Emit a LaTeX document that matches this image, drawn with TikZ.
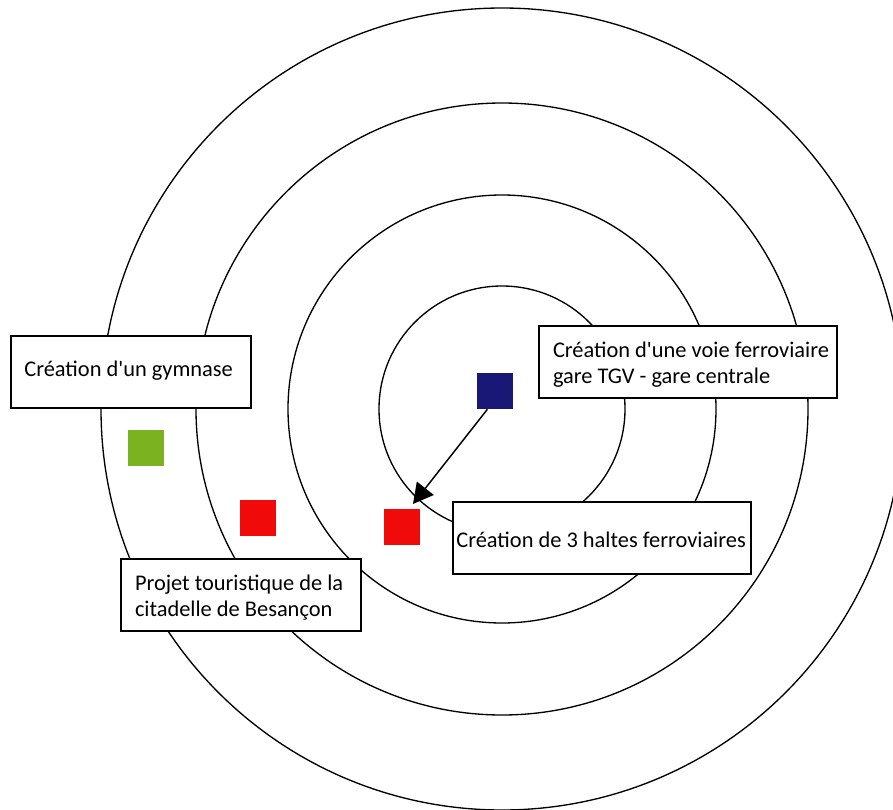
\documentclass[tikz,border=0pt]{standalone}
\usepackage{fontspec}
\newfontfamily\cfont{Carlito}
\usetikzlibrary{arrows.meta}
\definecolor{navy}{RGB}{26,24,118}
\definecolor{redsq}{RGB}{240,10,10}
\definecolor{greensq}{RGB}{122,178,32}
\tikzset{
  ring/.style={draw=black, line width=1pt},
  box/.style={draw=black, fill=white, line width=1.4pt, rectangle, inner sep=0pt},
  txt/.style={inner sep=0pt, align=left, font=\cfont\fontsize{16.8}{19}\selectfont},
  sq/.style={rectangle, inner sep=0pt, minimum width=27pt, minimum height=27pt},
  conn/.style={line width=1.1pt, -{Triangle[length=15pt,width=16pt]}}
}
\begin{document}
\begin{tikzpicture}[x=0.75pt,y=-0.75pt]
\useasboundingbox (0,0) rectangle (893,810);
\fill[white] (0,0) rectangle (893,810);
% concentric rings
\coordinate (c) at (502,409);
\draw[ring] (c) circle[radius=92.25pt];
\draw[ring] (c) circle[radius=160.5pt];
\draw[ring] (c) circle[radius=229.5pt];
\draw[ring] (c) circle[radius=300.75pt];
% squares
\node[sq, fill=navy] (blue) at (495,391) {};
\node[sq, fill=redsq] (red1) at (401.5,527) {};
\node[sq, fill=redsq] (red2) at (257.5,518) {};
\node[sq, fill=greensq] (green) at (145.5,448) {};
% boxes
\node[box, minimum width=180pt, minimum height=54pt] (g) at (131,372) {};
\node[txt, anchor=west] (gt) at ([xshift=10.5pt,yshift=1pt]g.west) {Création d'un gymnase};
\node[box, minimum width=223.5pt, minimum height=54pt] (v) at (688,362) {};
\node[txt, anchor=west] (vt) at ([xshift=11pt,yshift=-2pt]v.west) {Création d'une voie ferroviaire\\gare TGV - gare centrale};
\node[box, minimum width=223.5pt, minimum height=54pt] (h) at (602,538) {};
\node[txt, anchor=west] (ht) at ([xshift=3pt,yshift=-1.5pt]h.west) {Création de 3 haltes ferroviaires};
\node[box, minimum width=180pt, minimum height=54pt] (p) at (241,595) {};
\node[txt, anchor=west] (pt) at ([xshift=11pt,yshift=-2pt]p.west) {Projet touristique de la\\citadelle de Besançon};
% arrow
\coordinate (tip) at (413,504);
\draw[conn] ([xshift=8pt]blue.south west) -- (tip);
\end{tikzpicture}
\end{document}
